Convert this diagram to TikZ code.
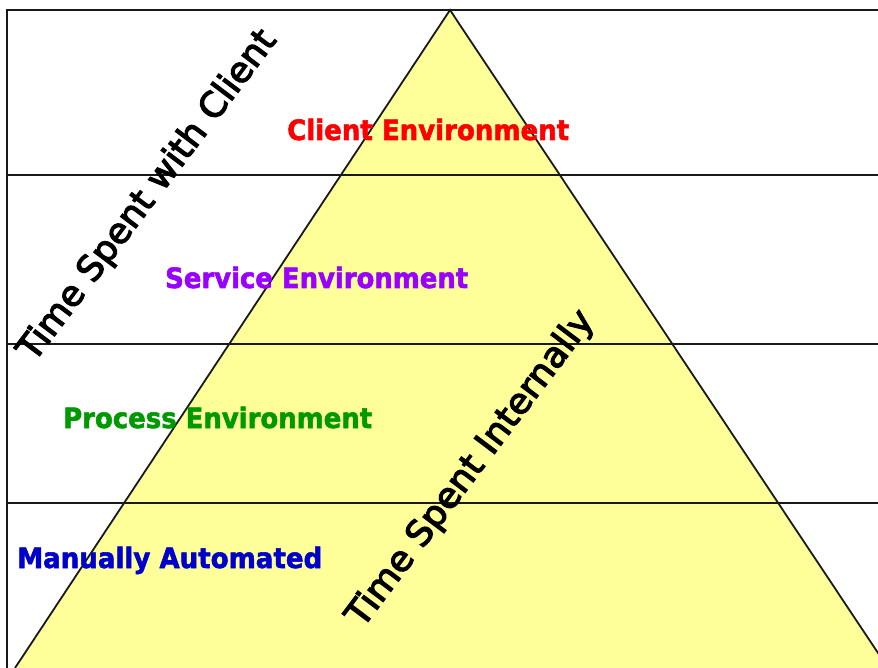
\documentclass[tikz,border=0pt]{standalone}
\usepackage{fontspec}
\usepackage{graphicx}
\setmainfont{DejaVu Sans}
\newfontfamily\labfont[FakeBold=2]{DejaVu Sans Bold}
\newfontfamily\sidefont[FakeBold=3.5]{DejaVu Sans}
\definecolor{pyr}{RGB}{255,255,153}
\definecolor{cred}{RGB}{255,0,0}
\definecolor{cpurple}{RGB}{153,0,255}
\definecolor{cgreen}{RGB}{0,153,0}
\definecolor{cblue}{RGB}{0,0,204}
\tikzset{
  rule/.style={draw=black!90, line width=1.8pt},
  envlabel/.style={anchor=base west, inner sep=0pt, font=\labfont\fontsize{28}{32}\selectfont},
  sidelabel/.style={inner sep=0pt, rotate=53, font=\sidefont\fontsize{35}{40}\selectfont},
}
\begin{document}
\begin{tikzpicture}[x=1pt,y=-1pt]
\useasboundingbox (0,0) rectangle (878,668);
\clip (0,0) rectangle (878,668);
\fill[white] (0,0) rectangle (878,668);
% pyramid
\coordinate (apex) at (450,10);
\coordinate (bl) at (15,668);
\coordinate (br) at (888,668);
\filldraw[fill=pyr, rule] (bl) -- (apex) -- (br);
% frame lines
\coordinate (tl) at (7,10);
\coordinate (tr) at (880,10);
\coordinate (lb) at (7,670);
\draw[rule] (lb) -- (tl) -- (tr);
\coordinate (h1l) at (7,175);  \coordinate (h1r) at (880,175);
\coordinate (h2l) at (7,344);  \coordinate (h2r) at (880,344);
\coordinate (h3l) at (7,503);  \coordinate (h3r) at (880,503);
\draw[rule] (h1l) -- (h1r);
\draw[rule] (h2l) -- (h2r);
\draw[rule] (h3l) -- (h3r);
% labels
\node[envlabel, text=cred] (client) at (287,140) {\resizebox{282pt}{\height}{Client Environment}};
\node[envlabel, text=cpurple] (service) at (165,288) {\resizebox{303pt}{\height}{Service Environment}};
\node[envlabel, text=cgreen] (process) at (63,428) {\resizebox{309pt}{\height}{Process Environment}};
\node[envlabel, text=cblue] (manual) at (17,568) {\resizebox{305pt}{\height}{Manually Automated}};
\node[sidelabel] (withclient) at (148,196) {\resizebox{404pt}{\height}{Time Spent with Client}};
\node[sidelabel] (internal) at (471,469) {\resizebox{386pt}{\height}{Time Spent Internally}};
\end{tikzpicture}
\end{document}
